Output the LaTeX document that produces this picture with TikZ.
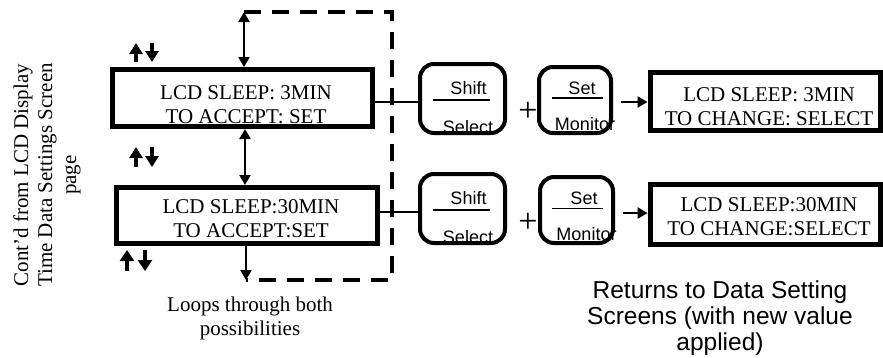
\documentclass[tikz,border=0pt]{standalone}
\usepackage{fontspec}
\setmainfont{Liberation Serif}
\newfontfamily\sansf{Liberation Sans}
\usetikzlibrary{arrows.meta,calc}
\begin{document}
\begin{tikzpicture}[x=1pt,y=-1pt,
  lcd/.style={draw,line width=5pt,inner sep=0pt},
  btn/.style={draw,line width=4pt,rounded corners=14pt,inner sep=0pt},
  txt/.style={font=\fontsize{21}{24}\selectfont,align=center,inner sep=0pt},
  btxt/.style={font=\sansf\fontsize{18}{20}\selectfont,inner sep=0pt,anchor=base},
  plus/.style={font=\fontsize{34}{34}\selectfont,inner sep=0pt},
  conn/.style={line width=2.6pt},
  dbl/.style={conn,{Triangle[length=10pt,width=11pt]}-{Triangle[length=10pt,width=11pt]}},
  one/.style={conn,-{Triangle[length=10pt,width=11pt]}},
  loopline/.style={line width=4.5pt,dash pattern=on 17pt off 11pt},
  keyline/.style={line width=1.7pt},
  updown/.style={line width=3.6pt,-{Triangle[length=11pt,width=13pt]}}]
\useasboundingbox (0,0) rectangle (883,357);

% side note
\node[txt,rotate=90] (note) at (47,175) {Cont'd from LCD Display\\Time Data Settings Screen\\page};

% LCD boxes (left)
\node[lcd,minimum width=260pt,minimum height=57pt] (A) at (242.5,98) {};
\node[txt] (At) at (246,105) {LCD SLEEP: 3MIN\\TO ACCEPT: SET};
\node[lcd,minimum width=261pt,minimum height=56pt] (B) at (247,215.5) {};
\node[txt] (Bt) at (251,219) {LCD SLEEP:30MIN\\TO ACCEPT:SET};

% result boxes (right)
\node[lcd,minimum width=230.5pt,minimum height=58pt] (R1) at (765.25,101.5) {};
\node[txt] (R1t) at (769,106.5) {LCD SLEEP: 3MIN\\TO CHANGE: SELECT};
\node[lcd,minimum width=230.5pt,minimum height=60.5pt] (R2) at (765.25,214.25) {};
\node[txt] (R2t) at (769,216.5) {LCD SLEEP:30MIN\\TO CHANGE:SELECT};

% key labels (drawn before the key frames so the frames cover them)
\node[btxt] (s1a) at (468.5,94.5) {Shift};
\node[btxt] (s1b) at (468,133) {Select};
\node[btxt] (m1a) at (582,94.5) {Set};
\node[btxt] (m1b) at (585,130) {Monitor};
\node[btxt] (s2a) at (468.5,204.5) {Shift};
\node[btxt] (s2b) at (468,243) {Select};
\node[btxt] (m2a) at (584,204.5) {Set};
\node[btxt] (m2b) at (586.5,240) {Monitor};
\draw[keyline] (433,100) -- (490,100);
\draw[keyline] (552,98) -- (603,98);
\draw[keyline] (433,210) -- (490,210);
\draw[keyline] (552,208.5) -- (603,208.5);

% keys
\node[btn,minimum width=85pt,minimum height=69pt] (S1) at (462.5,98.5) {};
\node[btn,minimum width=72pt,minimum height=66pt] (M1) at (575,100) {};
\node[btn,minimum width=85pt,minimum height=69pt] (S2) at (462.5,208.5) {};
\node[btn,minimum width=73pt,minimum height=66pt] (M2) at (576.5,210) {};
\node[plus] (P1) at (528,112) {+};
\node[plus] (P2) at (528,223) {+};

% loop
\coordinate (tl) at (244,12);
\coordinate (tr) at (392,12);
\coordinate (br) at (392,280);
\coordinate (bl) at (246,280);
\coordinate (mid) at (245,0);
\draw[loopline] (tl) -- (tr) -- (br) -- (bl);
\draw[dbl] (tl) -- (tl |- A.north);
\draw[dbl] (A.south -| mid) -- (B.north -| mid);
\draw[one] (B.south -| bl) -- (bl);

% rows
\coordinate (row1) at (0,102);
\coordinate (row2) at (0,212);
\coordinate (row2b) at (0,213);
\draw[conn] (A.east |- row1) -- (S1.west |- row1);
\draw[conn] (B.east |- row2) -- (S2.west |- row2);
\draw[one,shorten <=8pt] (M1.east |- row1) -- (R1.west |- row1);
\draw[one,shorten <=8pt] (M2.east |- row2b) -- (R2.west |- row2b);

% up/down marks
\draw[updown] (136,62) -- (136,43);
\draw[updown] (152,43) -- (152,62);
\draw[updown] (136,167) -- (136,147);
\draw[updown] (152,147) -- (152,167);
\draw[updown,-{Triangle[length=11pt,width=14pt]}] (127,271) -- (127,250);
\draw[updown,-{Triangle[length=11pt,width=14pt]}] (145,250) -- (145,271);

% captions
\node[txt] (loops) at (250,318) {Loops through both\\possibilities};
\node[txt,font=\sansf\fontsize{24.5}{26}\selectfont] (ret) at (720,318) {Returns to Data Setting\\Screens (with new value\\applied)};
\end{tikzpicture}
\end{document}
